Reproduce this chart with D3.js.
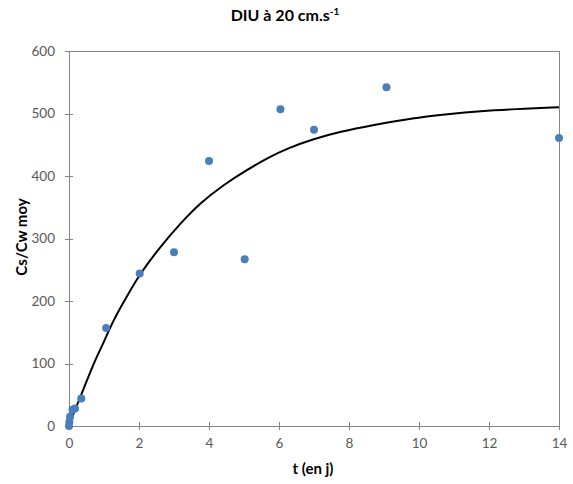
<!DOCTYPE html>
<html>
<head>
<meta charset="utf-8">
<script src="https://cdn.jsdelivr.net/npm/d3@7"></script>
<style>
  body { margin: 0; background: #fff; }
  svg { display: block; }
</style>
</head>
<body>
<svg id="chart" width="573" height="484"></svg>
<script>
// Measured points
const pointT = [0, 0.01, 0.03, 0.1, 0.17, 0.35, 1.06, 2.02, 3.0, 4.0, 5.02, 6.04, 7.0, 9.07, 14];
const pointV = [0, 7, 15, 26, 28, 44, 157, 244, 278, 424, 267, 507, 474, 542, 461];

// Fitted curve
const curveT = [0, 0.41, 0.70, 0.98, 1.27, 1.65, 2.02, 2.61, 3.18, 3.75, 4.42, 5.09, 5.71, 6.23, 6.99, 7.76, 8.62, 9.86, 10.81, 11.77, 12.72, 14];
const curveV = [2, 58, 100, 132, 170, 207, 243, 287, 324, 357, 386, 410, 430, 444, 459.5, 471, 481, 493, 499, 504, 507, 510];

const xTicks = [0, 2, 4, 6, 8, 10, 12, 14];
const yTicks = [0, 100, 200, 300, 400, 500, 600];

(function () {
const svg = d3.select("#chart");
const pLeft = 69, pRight = 559, pTop = 51, pBottom = 426;
const font = "Lato, 'Open Sans', sans-serif";
const axisColor = "#868686";
const labelColor = "#595959";

const x = d3.scaleLinear().domain([0, 14]).range([pLeft, pRight]);
const y = d3.scaleLinear().domain([0, 600]).range([pBottom, pTop]);

// plot border
svg.append("rect")
  .attr("x", pLeft).attr("y", pTop)
  .attr("width", pRight - pLeft).attr("height", pBottom - pTop)
  .attr("fill", "none").attr("stroke", axisColor).attr("stroke-width", 1)
  .attr("shape-rendering", "crispEdges");

// x axis
const xAxis = svg.append("g")
  .attr("transform", `translate(0,${pBottom})`)
  .call(d3.axisBottom(x).tickValues(xTicks).tickSize(4).tickPadding(8).tickSizeOuter(0));
xAxis.select(".domain").attr("stroke", axisColor);
xAxis.selectAll(".tick line").attr("stroke", axisColor).attr("y1", -4).attr("y2", 4);
xAxis.selectAll(".tick text").attr("fill", labelColor).style("font-family", font).style("font-size", "13.5px");

// y axis
const yAxis = svg.append("g")
  .attr("transform", `translate(${pLeft},0)`)
  .call(d3.axisLeft(y).tickValues(yTicks).tickSize(4).tickPadding(10).tickSizeOuter(0));
yAxis.select(".domain").attr("stroke", axisColor);
yAxis.selectAll(".tick line").attr("stroke", axisColor).attr("x1", -4).attr("x2", 4);
yAxis.selectAll(".tick text").attr("fill", labelColor).style("font-family", font).style("font-size", "13.5px");
svg.selectAll(".domain, .tick line").attr("shape-rendering", "crispEdges");

// curve
const curveData = curveT.map((t, i) => [t, curveV[i]]);
svg.append("path")
  .datum(curveData)
  .attr("fill", "none")
  .attr("stroke", "#000")
  .attr("stroke-width", 2)
  .attr("d", d3.line().x(d => x(d[0])).y(d => y(d[1])).curve(d3.curveBasis));

// points
svg.append("g").selectAll("circle")
  .data(pointT.map((t, i) => [t, pointV[i]]))
  .join("circle")
  .attr("cx", d => x(d[0]))
  .attr("cy", d => y(d[1]))
  .attr("r", 4)
  .attr("fill", "#4a7ebb");

// title
const title = svg.append("text")
  .attr("x", 285).attr("y", 21)
  .attr("text-anchor", "middle")
  .style("font-family", font).style("font-size", "16px").style("font-weight", "bold")
  .attr("fill", "#000");
title.append("tspan").text("DIU à 20 cm.s");
title.append("tspan").attr("dy", -6).style("font-size", "10px").text("-1");

// axis titles
svg.append("text")
  .attr("x", 313).attr("y", 474)
  .attr("text-anchor", "middle")
  .style("font-family", font).style("font-size", "15px").style("font-weight", "bold")
  .text("t (en j)");

svg.append("text")
  .attr("transform", "translate(27,237) rotate(-90)")
  .attr("text-anchor", "middle")
  .style("font-family", font).style("font-size", "15px").style("font-weight", "bold")
  .text("Cs/Cw moy");
})();
</script>
</body>
</html>
